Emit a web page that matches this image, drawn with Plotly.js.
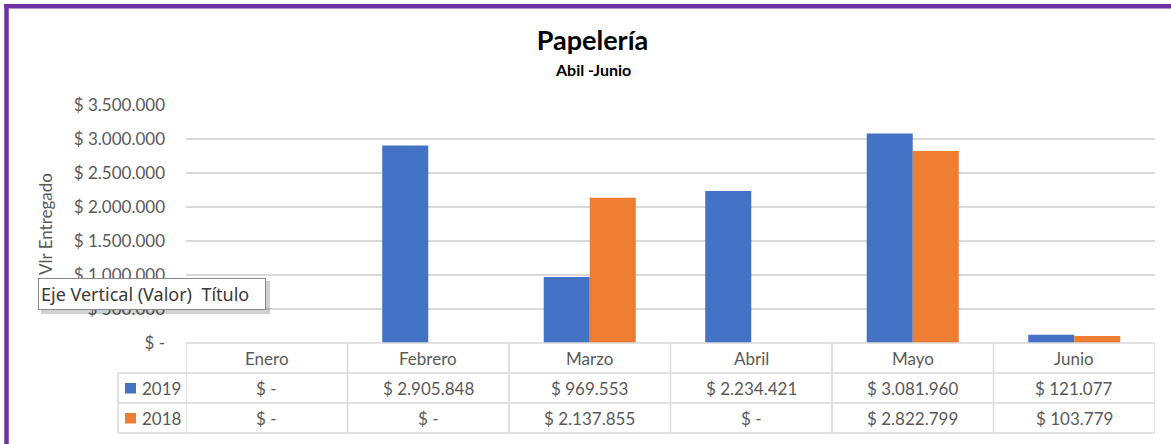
<!DOCTYPE html>
<html>
<head>
<meta charset="utf-8">
<script src="https://cdn.plot.ly/plotly-3.0.1.min.js"></script>
<style>
  html, body { margin: 0; padding: 0; background: #ffffff; }
  #chart { width: 1171px; height: 444px; }
</style>
</head>
<body>
<div id="chart"></div>
<script>
// ---- Data ----
const categories = ['Enero', 'Febrero', 'Marzo', 'Abril', 'Mayo', 'Junio'];
const values2019 = [0, 2905848, 969553, 2234421, 3081960, 121077];
const values2018 = [0, 0, 2137855, 0, 2822799, 103779];
const seriesNames = ['2019', '2018'];
const yTickValues = [0, 500000, 1000000, 1500000, 2000000, 2500000, 3000000, 3500000];
const chartTitle = 'Papelería';
const chartSubtitle = 'Abil -Junio';
const yAxisTitle = 'Vlr Entregado';
const tooltipText = 'Eje Vertical (Valor)  Título';

// ---- Styling / layout constants ----
const colors = ['#4472C4', '#ED7D31'];
const W = 1171, H = 444, ML = 186, MR = 16, MT = 105, MB = 101;
const PW = W - ML - MR, PH = H - MT - MB;
const px2x = p => (p - ML) / PW;
const px2y = p => (H - MB - p) / PH;
const textColor = '#595959';
const gridColor = '#d9d9d9';
const FONT = 'Lato, "Open Sans", sans-serif';

function fmt(v) {
  if (v === 0) return '$ -';
  return '$ ' + String(v).replace(/\B(?=(\d{3})+(?!\d))/g, '.');
}

const traces = [
  { type: 'bar', name: seriesNames[0], x: categories, y: values2019,
    marker: { color: colors[0] }, hoverinfo: 'skip' },
  { type: 'bar', name: seriesNames[1], x: categories, y: values2018,
    marker: { color: colors[1] }, hoverinfo: 'skip' }
];

// ---- Data table (below the plot) ----
const rowLines = [343, 373, 403, 433];
const headerY = 358, rowY = [388, 418];
const legendLeft = 118;
const shapes = [];
const annotations = [];
const lineStyle = { color: gridColor, width: 1.5 };

// horizontal lines
shapes.push({ type: 'line', xref: 'paper', yref: 'paper', x0: 0, x1: 1,
  y0: px2y(rowLines[0]), y1: px2y(rowLines[0]), line: lineStyle, layer: 'above' });
for (let i = 1; i < rowLines.length; i++) {
  shapes.push({ type: 'line', xref: 'paper', yref: 'paper', x0: px2x(legendLeft), x1: 1,
    y0: px2y(rowLines[i]), y1: px2y(rowLines[i]), line: lineStyle, layer: 'above' });
}
// vertical lines at category boundaries
for (let i = 0; i <= categories.length; i++) {
  shapes.push({ type: 'line', xref: 'x', yref: 'paper', x0: i - 0.5, x1: i - 0.5,
    y0: px2y(rowLines[0]), y1: px2y(rowLines[3]), line: lineStyle, layer: 'above' });
}
shapes.push({ type: 'line', xref: 'paper', yref: 'paper', x0: px2x(legendLeft), x1: px2x(legendLeft),
  y0: px2y(rowLines[1]), y1: px2y(rowLines[3]), line: lineStyle, layer: 'above' });

// header + cells
categories.forEach((c, i) => {
  annotations.push({ xref: 'x', yref: 'paper', x: i, y: px2y(headerY), text: c,
    showarrow: false, xanchor: 'center', yanchor: 'middle',
    font: { family: FONT, size: 17, color: textColor } });
  [values2019, values2018].forEach((arr, r) => {
    annotations.push({ xref: 'x', yref: 'paper', x: i, y: px2y(rowY[r]), text: fmt(arr[i]),
      showarrow: false, xanchor: 'center', yanchor: 'middle',
      font: { family: FONT, size: 17, color: textColor } });
  });
});
// legend keys
seriesNames.forEach((n, r) => {
  shapes.push({ type: 'rect', xref: 'paper', yref: 'paper',
    x0: px2x(125), x1: px2x(136), y0: px2y(rowY[r] - 5), y1: px2y(rowY[r] + 5.5),
    fillcolor: colors[r], line: { width: 0 }, layer: 'above' });
  annotations.push({ xref: 'paper', yref: 'paper', x: px2x(140), y: px2y(rowY[r]), text: n,
    showarrow: false, xanchor: 'left', yanchor: 'middle',
    font: { family: FONT, size: 17, color: textColor } });
});

// subtitle
annotations.push({ xref: 'paper', yref: 'paper', x: px2x(592.5), y: px2y(69),
  text: '<b>' + chartSubtitle + '</b>', showarrow: false, xanchor: 'center', yanchor: 'middle',
  font: { family: FONT, size: 16, color: '#000000' } });

// purple frame
const purple = '#7030A0';
shapes.push({ type: 'line', xref: 'paper', yref: 'paper', x0: px2x(6.5), x1: px2x(6.5),
  y0: px2y(4), y1: px2y(H + 2), line: { color: purple, width: 4.5 }, layer: 'above' });
shapes.push({ type: 'line', xref: 'paper', yref: 'paper', x0: px2x(4.25), x1: px2x(W + 2),
  y0: px2y(6.25), y1: px2y(6.25), line: { color: purple, width: 4.5 }, layer: 'above' });

// tooltip box (shadow + box)
shapes.push({ type: 'rect', xref: 'paper', yref: 'paper',
  x0: px2x(41), x1: px2x(270), y0: px2y(281), y1: px2y(314),
  fillcolor: 'rgba(0,0,0,0.18)', line: { width: 0 }, layer: 'above' });
annotations.push({ xref: 'paper', yref: 'paper', x: px2x(152), y: px2y(294),
  text: tooltipText, showarrow: false, xanchor: 'center', yanchor: 'middle',
  width: 222, height: 26, align: 'left', bgcolor: '#ffffff', bordercolor: '#8a8a8a',
  borderwidth: 1, borderpad: 2,
  font: { family: '"Noto Sans", "Open Sans", sans-serif', size: 18, color: '#3a3a3a' } });

const layout = {
  width: W, height: H,
  margin: { l: ML, r: MR, t: MT, b: MB, pad: 0 },
  paper_bgcolor: '#ffffff', plot_bgcolor: '#ffffff',
  showlegend: false,
  hovermode: false,
  barmode: 'group',
  bargap: 0.43,
  bargroupgap: 0,
  title: {
    text: '<b>' + chartTitle + '</b>',
    x: 592.5 / W, xref: 'container', xanchor: 'center',
    y: 1 - 41 / H, yref: 'container', yanchor: 'middle',
    font: { family: FONT, size: 27, color: '#000000' }
  },
  xaxis: {
    type: 'category', range: [-0.5, categories.length - 0.5],
    showticklabels: false, showgrid: false, zeroline: false, showline: false,
    ticks: '', fixedrange: true
  },
  yaxis: {
    range: [0, 3500000],
    tickvals: yTickValues,
    ticktext: yTickValues.map(fmt),
    ticks: '', ticklabelstandoff: 20,
    tickfont: { family: FONT, size: 17, color: textColor },
    showgrid: true, gridcolor: gridColor, gridwidth: 1.3,
    zeroline: false, showline: false, fixedrange: true,
    automargin: false,
    title: { text: yAxisTitle, standoff: 16,
      font: { family: FONT, size: 17, color: textColor } }
  },
  shapes: shapes,
  annotations: annotations
};

Plotly.newPlot('chart', traces, layout, { displayModeBar: false, staticPlot: true });
</script>
</body>
</html>
